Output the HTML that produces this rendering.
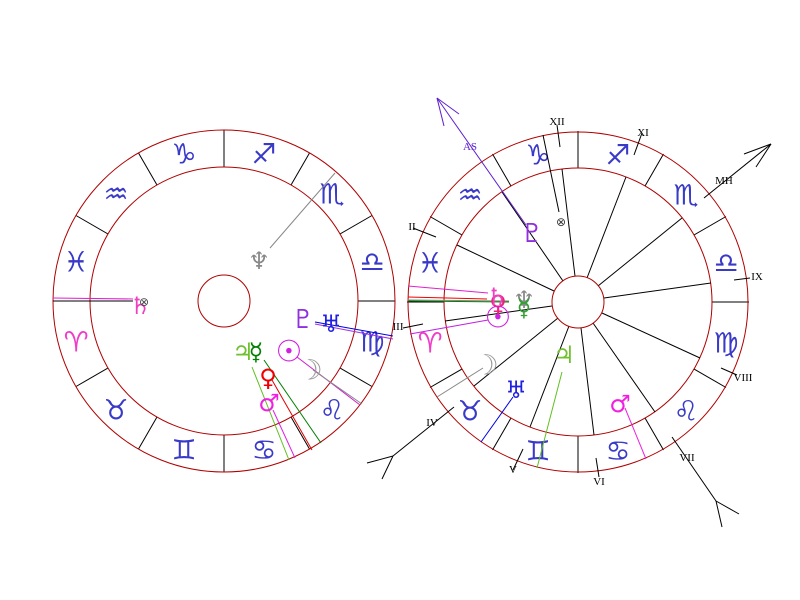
<!DOCTYPE html>
<html><head><meta charset="utf-8"><style>
html,body{margin:0;padding:0;background:#fff;}
svg{display:block;}
.s{font-family:"DejaVu Sans",sans-serif;font-size:28px;fill:#3a3ac8;text-anchor:middle;dominant-baseline:central;}
.p{font-family:"DejaVu Sans",sans-serif;font-size:24px;text-anchor:middle;dominant-baseline:central;}
.h{font-family:"Liberation Serif",serif;font-size:11px;fill:#000;text-anchor:middle;dominant-baseline:central;}
</style></head><body>
<svg width="800" height="600" viewBox="0 0 800 600" xmlns="http://www.w3.org/2000/svg">
<rect width="800" height="600" fill="#fff"/>
<!-- LEFT CHART -->
<g transform="translate(224,301)" stroke="#000" stroke-width="1">
<line x1="-171" y1="0" x2="171" y2="0"/>
<line x1="0" y1="-171" x2="0" y2="171"/>
<line x1="-148" y1="-85.5" x2="148" y2="85.5"/>
<line x1="-148" y1="85.5" x2="148" y2="-85.5"/>
<line x1="-85.5" y1="-148" x2="85.5" y2="148"/>
<line x1="-85.5" y1="148" x2="85.5" y2="-148"/>
<circle r="171" fill="none" stroke="#b00000"/>
<circle r="134" fill="#fff" stroke="#b00000"/>
<circle r="26" fill="#fff" stroke="#b00000"/>
</g>
<g>
<text class="s" x="372" y="262">♎</text>
<text class="s" x="332" y="194">♏</text>
<text class="s" x="264" y="154">♐</text>
<text class="s" x="184" y="154">♑</text>
<text class="s" x="116" y="194">♒</text>
<text class="s" x="76" y="262">♓</text>
<text class="s" x="76" y="342" style="fill:#f03cc8">♈</text>
<text class="s" x="116" y="410">♉</text>
<text class="s" x="184" y="450">♊</text>
<text class="s" x="264" y="450">♋</text>
<text class="s" x="332" y="410">♌</text>
<text class="s" x="372" y="342">♍</text>
</g>
<!-- left planets lines -->
<line x1="53" y1="298" x2="133" y2="299" stroke="#e020d0"/>
<line x1="53" y1="301" x2="133" y2="301" stroke="#000"/>
<line x1="270" y1="248" x2="335" y2="173" stroke="#888"/>
<line x1="315" y1="322" x2="393" y2="336" stroke="#0000e0"/>
<line x1="315" y1="324" x2="393" y2="339" stroke="#a030e0"/>
<line x1="297" y1="357" x2="360" y2="405" stroke="#d020d0"/>
<line x1="313" y1="370" x2="362" y2="404" stroke="#888"/>
<line x1="252" y1="367" x2="289" y2="460" stroke="#60c020"/>
<line x1="273" y1="410" x2="295" y2="458" stroke="#e020e0"/>
<line x1="272" y1="380" x2="312" y2="450" stroke="#e00000"/>
<line x1="264" y1="360" x2="321" y2="443" stroke="#008000"/>
<text class="p" x="140" y="306" style="fill:#f040c0">♄</text>
<text class="p" x="144" y="302" style="font-size:12px;fill:#444">⊗</text>
<text class="p" x="259" y="261" style="fill:#888">♆</text>
<text class="p" x="303" y="320" style="fill:#9030e0;font-size:26px">♇</text>
<text class="p" x="331" y="324" style="fill:#2020e0">♅</text>
<text class="p" x="243" y="352" style="fill:#70c030">♃</text>
<text class="p" x="256" y="352" style="fill:#008000">☿</text>
<text class="p" x="268" y="378" style="fill:#f00000">♀</text>
<text class="p" x="269" y="403" style="fill:#f020e0">♂</text>
<text class="p" x="289" y="352" style="fill:#d020e0;font-size:30px">☉</text>
<text class="p" x="310" y="370" style="fill:#999;font-size:28px">☽</text>

<!-- RIGHT CHART -->
<g transform="translate(578,302)" stroke="#000" stroke-width="1">
<line x1="-171" y1="0" x2="171" y2="0"/>
<line x1="0" y1="-171" x2="0" y2="171"/>
<line x1="-148" y1="-85.5" x2="148" y2="85.5"/>
<line x1="-148" y1="85.5" x2="148" y2="-85.5"/>
<line x1="-85.5" y1="-148" x2="85.5" y2="148"/>
<line x1="-85.5" y1="148" x2="85.5" y2="-148"/>
<circle r="170" fill="none" stroke="#b00000"/>
<circle r="134" fill="#fff" stroke="#b00000"/>
</g>
<g stroke="#000">
<line x1="562" y1="169" x2="575" y2="276"/>
<line x1="626" y1="177" x2="587" y2="278"/>
<line x1="682" y1="218" x2="598" y2="286"/>
<line x1="711" y1="283" x2="604" y2="298"/>
<line x1="700" y1="358" x2="602" y2="313"/>
<line x1="655" y1="412" x2="593" y2="323"/>
<line x1="594" y1="435" x2="581" y2="328"/>
<line x1="530" y1="427" x2="569" y2="326"/>
<line x1="474" y1="386" x2="558" y2="318"/>
<line x1="445" y1="321" x2="552" y2="306"/>
<line x1="457" y1="245" x2="554" y2="291"/>
<line x1="502" y1="192" x2="563" y2="281"/>
</g>
<circle cx="578" cy="302" r="26" fill="#fff" stroke="#b00000"/>
<g>
<text class="s" x="726" y="263">♎</text>
<text class="s" x="686" y="195">♏</text>
<text class="s" x="618" y="155">♐</text>
<text class="s" x="538" y="155">♑</text>
<text class="s" x="470" y="195">♒</text>
<text class="s" x="430" y="263">♓</text>
<text class="s" x="430" y="343" style="fill:#f03cc8">♈</text>
<text class="s" x="470" y="411">♉</text>
<text class="s" x="538" y="451">♊</text>
<text class="s" x="618" y="451">♋</text>
<text class="s" x="686" y="411">♌</text>
<text class="s" x="726" y="343">♍</text>
</g>
<!-- house ticks & labels -->
<g stroke="#000">
<line x1="557" y1="125" x2="560" y2="147"/>
<line x1="642" y1="133" x2="634" y2="155"/>
<line x1="734" y1="280" x2="750" y2="278"/>
<line x1="721" y1="368" x2="737" y2="375"/>
<line x1="596" y1="458" x2="599" y2="477"/>
<line x1="523" y1="449" x2="513" y2="470"/>
<line x1="403" y1="328" x2="423" y2="324"/>
<line x1="413" y1="228" x2="436" y2="237"/>
<line x1="704" y1="198" x2="771" y2="144"/>
<line x1="771" y1="144" x2="744" y2="154"/>
<line x1="771" y1="144" x2="756" y2="167"/>
<line x1="454" y1="407" x2="393" y2="456"/>
<line x1="393" y1="456" x2="367" y2="463"/>
<line x1="393" y1="456" x2="382" y2="479"/>
<line x1="672" y1="437" x2="716" y2="501"/>
<line x1="716" y1="501" x2="739" y2="514"/>
<line x1="716" y1="501" x2="722" y2="527"/>
<line x1="543" y1="135" x2="559" y2="212"/>
</g>
<g stroke="#6020d0">
<line x1="437" y1="98" x2="526" y2="225"/>
<line x1="437" y1="98" x2="444" y2="126"/>
<line x1="437" y1="98" x2="459" y2="114"/>
</g>
<text class="h" x="557" y="122">XII</text>
<text class="h" x="643" y="133">XI</text>
<text class="h" x="724" y="181">MH</text>
<text class="h" x="757" y="277">IX</text>
<text class="h" x="743" y="378">VIII</text>
<text class="h" x="687" y="458">VII</text>
<text class="h" x="599" y="482">VI</text>
<text class="h" x="513" y="470">V</text>
<text class="h" x="432" y="423">IV</text>
<text class="h" x="398" y="327">III</text>
<text class="h" x="412" y="227">II</text>
<text class="h" x="470" y="147" style="fill:#6020d0">AS</text>
<!-- right planet lines -->
<line x1="408" y1="286" x2="488" y2="293" stroke="#e020d0"/>
<line x1="408" y1="297" x2="487" y2="299" stroke="#f00000"/>
<line x1="408" y1="300" x2="509" y2="301" stroke="#888"/>
<line x1="408" y1="301" x2="509" y2="302" stroke="#008000"/>
<line x1="410" y1="334" x2="488" y2="320" stroke="#c020e0"/>
<line x1="437" y1="397" x2="483" y2="368" stroke="#888"/>
<line x1="481" y1="442" x2="513" y2="397" stroke="#0000e0"/>
<line x1="537" y1="468" x2="562" y2="372" stroke="#60c020"/>
<line x1="646" y1="459" x2="625" y2="408" stroke="#f020e0"/>
<text class="p" x="498" y="304" style="fill:#f02080">♀</text>
<text class="p" x="497" y="297" style="fill:#f040c0">♄</text>
<text class="p" x="498" y="318" style="fill:#d020e0;font-size:30px">☉</text>
<text class="p" x="524" y="300" style="fill:#888">♆</text>
<text class="p" x="524" y="308" style="fill:#30a030">☿</text>
<text class="p" x="486" y="365" style="fill:#999;font-size:28px">☽</text>
<text class="p" x="516" y="390" style="fill:#2020e0">♅</text>
<text class="p" x="564" y="355" style="fill:#70c030">♃</text>
<text class="p" x="620" y="404" style="fill:#f020e0">♂</text>
<text class="p" x="532" y="234" style="fill:#9030e0;font-size:26px">♇</text>
<text class="p" x="561" y="222" style="font-size:12px;fill:#333">⊗</text>
</svg>
</body></html>
